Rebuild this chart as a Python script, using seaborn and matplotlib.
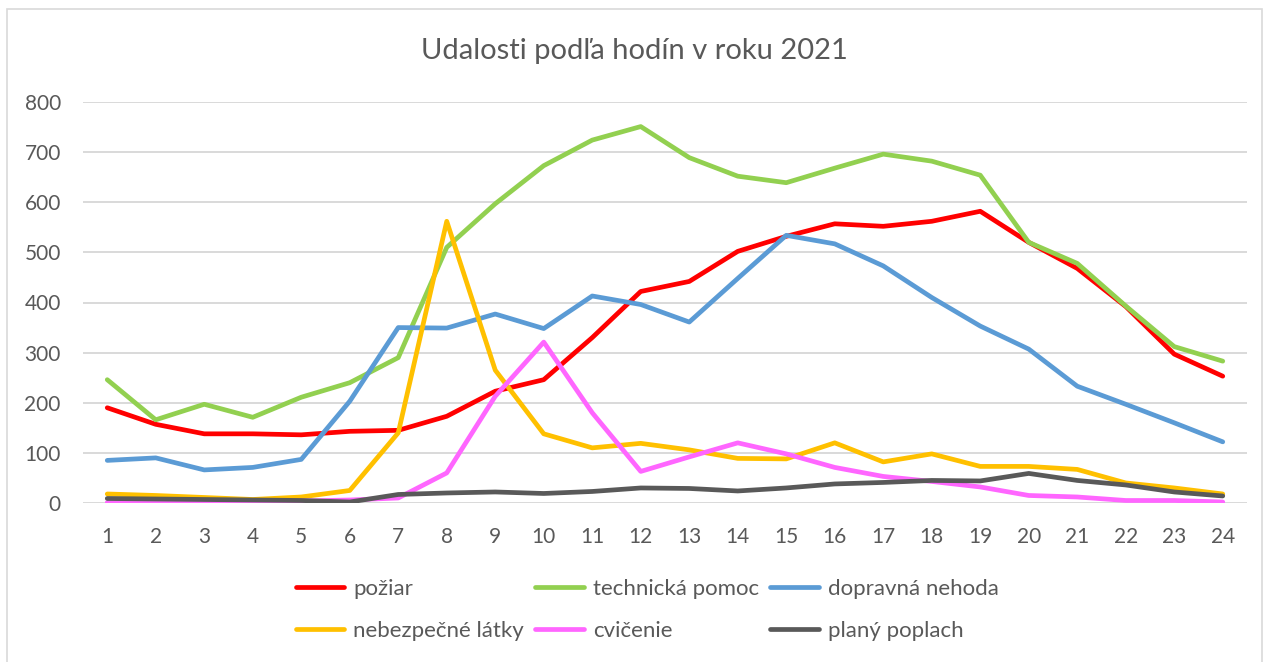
import numpy as np
import pandas as pd
import matplotlib
matplotlib.use("Agg")
import matplotlib.pyplot as plt
import seaborn as sns
from matplotlib.patches import Rectangle
from matplotlib.lines import Line2D

hours = list(range(1, 25))
poziar = [190, 157, 138, 138, 136, 143, 145, 173, 223, 246, 330, 422,
          442, 502, 532, 557, 552, 562, 582, 520, 468, 392, 297, 253]
technicka = [246, 166, 197, 171, 211, 240, 290, 510, 597, 673, 724, 751,
             689, 652, 639, 668, 696, 682, 654, 520, 478, 393, 312, 283]
dopravna = [85, 90, 66, 71, 87, 203, 350, 349, 377, 348, 413, 396,
            361, 448, 534, 517, 473, 410, 353, 307, 233, 197, 160, 122]
nebezpecne = [18, 15, 11, 7, 12, 25, 140, 562, 265, 138, 110, 119,
              106, 89, 88, 120, 82, 98, 73, 73, 67, 40, 30, 18]
cvicenie = [1, 1, 1, 2, 4, 6, 10, 60, 213, 321, 180, 63,
            92, 120, 98, 71, 53, 43, 32, 15, 12, 5, 5, 2]
plany = [9, 8, 7, 6, 5, 2, 17, 20, 22, 19, 23, 30,
         29, 24, 30, 38, 41, 45, 44, 59, 45, 36, 22, 14]

series_names = ["požiar", "technická pomoc", "dopravná nehoda",
                "nebezpečné látky", "cvičenie", "planý poplach"]
series_values = [poziar, technicka, dopravna, nebezpecne, cvicenie, plany]
colors = ["#FF0000", "#92D050", "#5B9BD5", "#FFC000", "#FF66FF", "#595959"]
yticks = [0, 100, 200, 300, 400, 500, 600, 700, 800]
title = "Udalosti podľa hodín v roku 2021"

rows = []
for name, vals in zip(series_names, series_values):
    for h, v in zip(hours, vals):
        rows.append({"hodina": h, "pocet": v, "typ": name})
df = pd.DataFrame(rows)

sns.set_theme(style="white")
plt.rcParams['font.family'] = ['Lato', 'DejaVu Sans']
text_color = "#595959"

fig = plt.figure(figsize=(12.69, 6.62), dpi=100)
ax = fig.add_axes([83/1269, 1-503/662, (1247-83)/1269, (503-102)/662])

sns.lineplot(data=df, x="hodina", y="pocet", hue="typ", hue_order=series_names,
             palette=colors, linewidth=3.4, ax=ax, legend=False,
             solid_capstyle="round", solid_joinstyle="round")

ax.set_xlim(0.5, 24.5)
ax.set_ylim(0, 800)
ax.set_xticks(hours)
ax.set_xticklabels([str(h) for h in hours])
ax.set_yticks(yticks)
ax.set_yticklabels([str(t) for t in yticks])
ax.grid(axis="y", color="#D9D9D9", linewidth=1.4)
ax.grid(axis="x", visible=False)
ax.set_axisbelow(True)
for s in ax.spines.values():
    s.set_visible(False)
ax.tick_params(axis="both", length=0, labelsize=15, colors=text_color)
ax.tick_params(axis="y", pad=16)
ax.tick_params(axis="x", pad=17)
ax.set_xlabel("")
ax.set_ylabel("")

fig.text(0.5, 1-51/662, title, ha="center", va="center",
         fontsize=21, color=text_color)

handles = [Line2D([0], [0], color=c, linewidth=3.4, solid_capstyle="round")
           for c in colors]
order = [0, 3, 1, 4, 2, 5]
leg = fig.legend([handles[i] for i in order], [series_names[i] for i in order],
                 ncol=3, loc="center", bbox_to_anchor=(0.51, 1-610/662),
                 frameon=False, fontsize=16, handlelength=2.2,
                 handletextpad=0.4, columnspacing=0.5, labelspacing=1.0,
                 labelcolor=text_color)

fig.patches.append(Rectangle((7/1269, -0.01), (1262-7)/1269, 1-9/662 + 0.01,
                             transform=fig.transFigure, fill=False,
                             edgecolor="#D9D9D9", linewidth=1.2))

fig.savefig("out.png", dpi=100)
